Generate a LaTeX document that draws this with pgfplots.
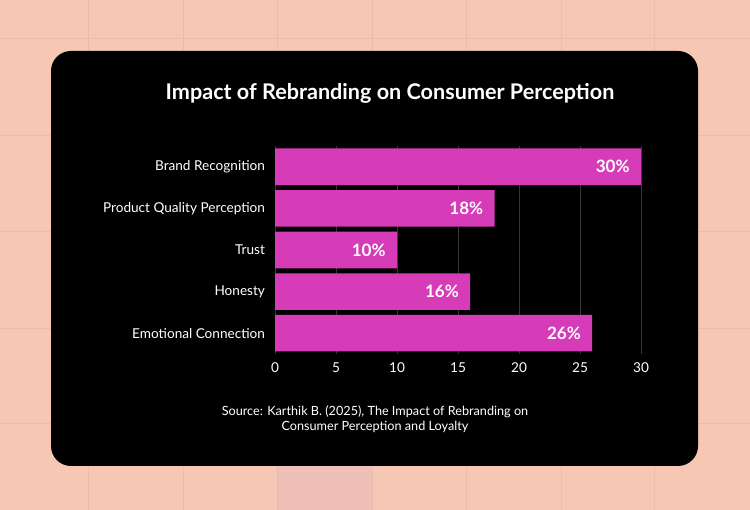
\documentclass[border=0pt]{standalone}
\usepackage{pgfplots}
\pgfplotsset{compat=1.18}
\usepackage{fontspec}
\setmainfont{Lato}
\definecolor{bgpeach}{HTML}{F6C8B3}
\definecolor{gridpeach}{HTML}{ECBAAE}
\definecolor{cellpink}{HTML}{EEC0B8}
\definecolor{barpink}{HTML}{D63BB8}
\definecolor{gridgray}{HTML}{363636}
\begin{document}
\begin{tikzpicture}[x=0.75pt,y=0.75pt]
\useasboundingbox (0,0) rectangle (750,510);
% background (pixel coords, origin bottom-left, y up)
\fill[bgpeach] (0,0) rectangle (750,510);
\fill[cellpink] (277,0) rectangle (372,45);
\foreach \xx in {88,183,277,372,466,561,654} {\draw[gridpeach,line width=0.6pt] (\xx,0) -- (\xx,510);}
\foreach \yy in {472,375,279,182,87} {\draw[gridpeach,line width=0.6pt] (0,\yy) -- (750,\yy);}
\fill[black,rounded corners=15pt] (51,44) rectangle (698,459);
\node[text=white,font=\bfseries\fontsize{16.2}{19}\selectfont] at (390,417) {Impact of Rebranding on Consumer Perception};
\node[text=white,font=\fontsize{9.5}{11.3}\selectfont,align=center] at (375,91) {Source: Karthik B. (2025), The Impact of Rebranding on\\Consumer Perception and Loyalty};
\begin{axis}[
  at={(206.25pt,117pt)}, anchor=south west,
  scale only axis, width=274.5pt, height=156pt,
  xbar, bar width=0.88,
  xmin=0, xmax=30, ymin=-0.5, ymax=4.5,
  ytick={0,1,2,3,4},
  yticklabels={Emotional Connection,Honesty,Trust,Product Quality Perception,Brand Recognition},
  xtick={0,5,10,15,20,25,30},
  axis line style={draw=none},
  major tick length=0pt,
  xmajorgrids, major grid style={gridgray,line width=0.6pt},
  ticklabel style={text=white,font=\fontsize{10.2}{12}\selectfont},
  /pgf/number format/assume math mode=true,
  xticklabel style={yshift=-3pt},
  yticklabel style={xshift=-4pt},
  nodes near coords={\pgfmathprintnumber{\pgfplotspointmeta}\%},
  every node near coord/.append style={anchor=east,xshift=-5pt,text=white,font=\bfseries\fontsize{12.8}{15}\selectfont},
]
\addplot[fill=barpink,draw=none] coordinates {(26,0) (16,1) (10,2) (18,3) (30,4)};
\end{axis}
\end{tikzpicture}
\end{document}
